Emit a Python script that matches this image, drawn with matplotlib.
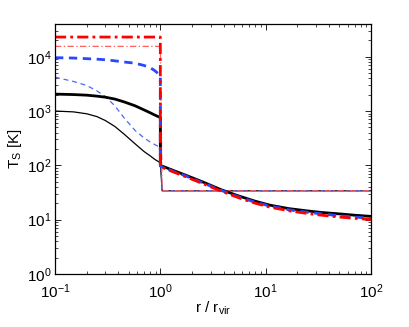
"""Spin temperature profiles T_S(r / r_vir), log-log."""

import matplotlib
matplotlib.use("Agg")
import matplotlib.pyplot as plt

plt.rcParams["font.family"] = ["Liberation Sans", "DejaVu Sans"]
plt.rcParams["mathtext.default"] = "regular"
plt.rcParams["font.size"] = 11

# radii inside the virial radius
R_IN = [0.1, 0.15, 0.2, 0.25, 0.3, 0.37, 0.45, 0.575, 0.7, 0.8, 0.89, 1.0]
# radii outside
R_OUT = [1.0, 1.3, 1.85, 2.5, 3.8, 5.5, 7.9, 11, 16.6, 25, 34, 50, 70, 100]
# thin curves fall to the flat background level just past r_vir
R_FLAT = [1.04, 100]
T_FLAT = [34, 34]

# inner profiles
black_thin_in = [1000, 965, 890, 790, 670, 520, 380, 250, 180, 150, 128, 112]
black_thick_in = [2050, 2010, 1960, 1880, 1800, 1660, 1480, 1250, 1050, 930, 840, 760]
blue_thin_in = [4200, 3500, 2950, 2350, 1850, 1250, 760, 440, 320, 270, 240, 215]
blue_thick_in = [9600, 9450, 9200, 9000, 8800, 8400, 8000, 7600, 6900, 6300, 5500, 4500]
red_thin_in = [15500] * len(R_IN)
red_thick_in = [23000] * len(R_IN)

# outer profiles (thick curves only)
black_thick_out = [100, 82, 63, 50, 35.5, 27.5, 22, 18.5, 16, 14.5, 13.6, 12.8, 12.1, 11.5]
blue_thick_out = [97, 79, 61, 48, 34.5, 26.5, 21, 17.8, 15.2, 13.7, 12.8, 11.8, 11.2, 10.6]
red_thick_out = [95, 77, 59, 46.5, 33.5, 25.5, 20.2, 17, 14.6, 13, 12.1, 11.2, 10.6, 10.1]

RED = "#ff0000"
RED_LIGHT = "#ff6060"
BLUE = "#2847ff"
BLUE_LIGHT = "#4a66ff"

fig = plt.figure(figsize=(4.09, 3.27), dpi=100)
ax = fig.add_axes([0.1345, 0.162, 0.7725, 0.7646])

# thin: inner profile then flat background
ax.plot(R_IN + R_FLAT, black_thin_in + T_FLAT, color="black", lw=0.9)
ax.plot(R_IN + R_FLAT, blue_thin_in + T_FLAT, color=BLUE_LIGHT, lw=0.9, ls=(0, (4, 3)))
ax.plot(R_IN + R_FLAT, red_thin_in + T_FLAT, color=RED_LIGHT, lw=0.9, ls=(0, (5, 2, 1, 2)))

# thick: inner profile then decreasing outer profile
ax.plot(R_IN + R_OUT, black_thick_in + black_thick_out, color="black", lw=2.0)
ax.plot(R_IN + R_OUT, blue_thick_in + blue_thick_out, color=BLUE, lw=2.0, ls=(0, (3, 2)))
ax.plot(R_IN + R_OUT, red_thick_in + red_thick_out, color=RED, lw=2.0, ls=(0, (4, 1.5, 1, 1.5)))

ax.set_xscale("log")
ax.set_yscale("log")
ax.set_xlim(0.1, 100)
ax.set_ylim(1, 4e4)
ax.set_yticks([1, 10, 100, 1e3, 1e4])
ax.tick_params(which="both", direction="in", top=True, right=True)
ax.tick_params(which="major", length=4, width=0.6)
ax.tick_params(which="minor", length=2, width=0.5)
ax.tick_params(axis="y", which="major", pad=2.5)
ax.tick_params(axis="x", which="major", pad=6)
for s in ax.spines.values():
    s.set_linewidth(0.9)

ax.set_xlabel("r / r$_{vir}$", labelpad=-1)
ax.set_ylabel("T$_S$ [K]", labelpad=2)

fig.savefig("out.png", dpi=100)
